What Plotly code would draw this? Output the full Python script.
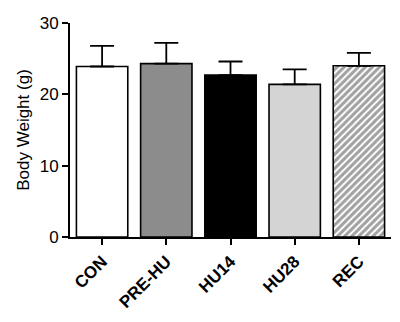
import plotly.graph_objects as go

groups = ["CON", "PRE-HU", "HU14", "HU28", "REC"]
means = [23.9, 24.3, 22.7, 21.4, 24.0]
sems = [2.9, 2.9, 1.9, 2.1, 1.8]
fills = ["#ffffff", "#8c8c8c", "#000000", "#d4d4d4", "#ffffff"]
patterns = ["", "", "", "", "/"]
tick_vals = [0, 10, 20, 30]

fig = go.Figure()
fig.add_trace(go.Bar(
    x=groups, y=means,
    marker=dict(color=fills, line=dict(color="#000000", width=1.6),
                pattern=dict(shape=patterns, fgcolor="#000000", bgcolor="#ffffff",
                             size=5, solidity=0.6)),
    width=0.8,
    error_y=dict(type="data", symmetric=False, array=sems, arrayminus=[0]*5,
                 color="#000000", thickness=1.8, width=12),
    showlegend=False,
))

fig.update_layout(
    width=400, height=322,
    margin=dict(l=70, r=9, t=23, b=85, autoexpand=False),
    plot_bgcolor="white", paper_bgcolor="white",
    font=dict(family="Arial, Liberation Sans, sans-serif", color="#000000", size=17),
    bargap=0.2,
)
fig.update_yaxes(range=[0, 30], tickvals=tick_vals, showgrid=False, zeroline=False,
                 showline=True, linecolor="#000000", linewidth=2, automargin=False,
                 ticks="outside", ticklen=6, tickwidth=2, tickcolor="#000000",
                 tickfont=dict(size=17),
                 title=dict(text="Body Weight (g)", font=dict(size=17), standoff=6))
fig.update_xaxes(range=[-0.5, 4.5], showgrid=False, showline=True, linecolor="#000000",
                 linewidth=2, ticks="outside", ticklen=6, tickwidth=2, tickcolor="#000000",
                 tickangle=-45, tickfont=dict(size=17), automargin=False,
                 tickprefix="<b>", ticksuffix="</b>")

fig.write_html("out.html", config={"displayModeBar": False},
               post_script="document.body.style.margin='0';document.body.style.overflow='hidden';")
